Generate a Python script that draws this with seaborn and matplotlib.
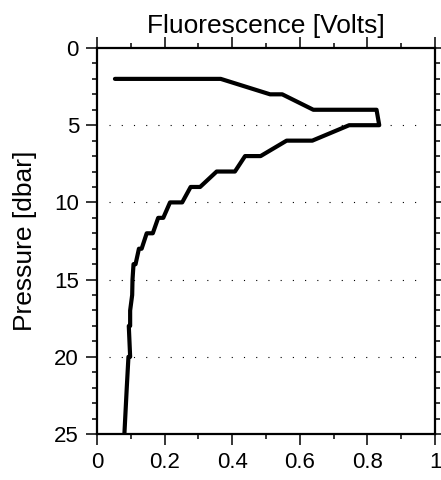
import numpy as np
import pandas as pd
import seaborn as sns
import matplotlib
matplotlib.use('Agg')
import matplotlib.pyplot as plt
from matplotlib.ticker import MultipleLocator, FuncFormatter

# profile values
fluor = [0.053, 0.366, 0.512, 0.548, 0.640, 0.827, 0.835, 0.746, 0.637, 0.561,
         0.484, 0.438, 0.408, 0.354, 0.305, 0.277, 0.252, 0.216, 0.196, 0.181,
         0.165, 0.147, 0.132, 0.124, 0.114, 0.108, 0.105, 0.104, 0.098, 0.098,
         0.094, 0.096, 0.098, 0.093, 0.088, 0.081]
pressure = [2, 2, 3, 3, 4, 4, 5, 5, 6, 6,
            7, 7, 8, 8, 9, 9, 10, 10, 11, 11,
            12, 12, 13, 13, 14, 14, 15, 16, 17, 18,
            18, 19, 20, 20, 22, 25]
grid_levels = [5, 10, 15, 20]

df = pd.DataFrame({'fluor': fluor, 'pressure': pressure})

sns.set_style('ticks')
plt.rcParams['font.family'] = ['Liberation Sans', 'DejaVu Sans']
plt.rcParams['text.color'] = 'black'
plt.rcParams['axes.labelcolor'] = 'black'

fig = plt.figure(figsize=(4.41, 4.8), dpi=100)
ax = fig.add_axes([0.22, 0.0958, 0.7664, 0.8042])

# dotted reference lines
ax.hlines(grid_levels, 0.035, 0.97, colors='black', linewidth=0.8,
          linestyles=(0, (1, 10)))

sns.lineplot(data=df, x='fluor', y='pressure', sort=False, estimator=None,
             color='black', linewidth=3, ax=ax)

ax.set_xlim(0, 1)
ax.set_ylim(25, 0)
ax.xaxis.set_major_locator(MultipleLocator(0.2))
ax.xaxis.set_minor_locator(MultipleLocator(0.1))
ax.yaxis.set_major_locator(MultipleLocator(5))
ax.yaxis.set_minor_locator(MultipleLocator(1))
ax.xaxis.set_major_formatter(FuncFormatter(lambda v, p: f'{v:g}'))

ax.tick_params(which='both', direction='out', top=True, right=True,
               labeltop=False, labelright=False, color='black',
               labelcolor='black', width=1.1)
ax.tick_params(which='major', length=8, labelsize=16, pad=5)
ax.tick_params(which='minor', length=3.6)
for s in ax.spines.values():
    s.set_linewidth(1.6)
    s.set_color('black')

ax.set_xlabel('')
ax.set_ylabel('Pressure [dbar]', fontsize=19, labelpad=12)
ax.set_title('Fluorescence [Volts]', fontsize=19, pad=11)

fig.savefig('out.png', dpi=100)
